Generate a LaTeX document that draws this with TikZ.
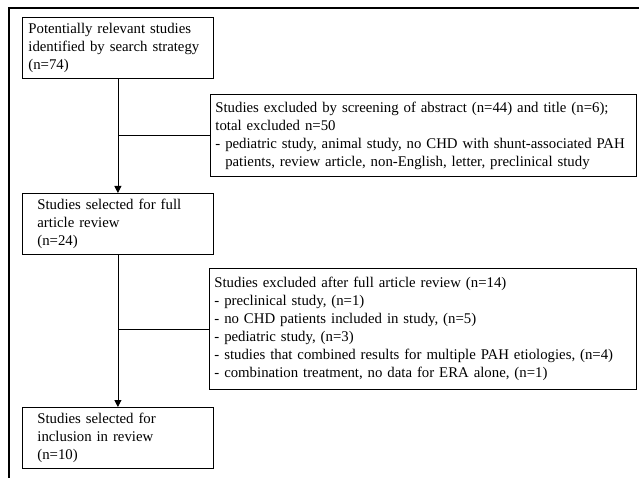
\documentclass[tikz,border=0pt]{standalone}
\usepackage{fontspec}
\setmainfont{Liberation Serif}
\usetikzlibrary{arrows.meta}
\tikzset{
	box/.style={draw,rectangle,anchor=north west,align=left,line width=0.8pt,
		font=\fontsize{14.8}{18}\selectfont,inner ysep=2pt},
	flow/.style={line width=0.8pt,-{Triangle[length=7pt,width=7pt]}}
}
\begin{document}
\begin{tikzpicture}[x=1pt,y=-1pt]
	\useasboundingbox (0,0) rectangle (639,478);
	%外框
	\draw [line width=1.2pt] (9,478) -- (9,8) -- (639,8);
	%方框
	\node[box,inner xsep=6pt,text width=179pt,minimum height=61pt] (found) at (22,17)
	{Potentially relevant studies\\identified by search strategy\\(n=74)};
	\node[box,inner xsep=15pt,text width=161pt,minimum height=61pt] (full) at (22,193)
	{Studies selected for full\\article review\\(n=24)};
	\node[box,inner xsep=15pt,text width=161pt,minimum height=61pt] (incl) at (22,407)
	{Studies selected for\\inclusion in review\\(n=10)};
	\node[box,inner xsep=5pt,text width=416pt,minimum height=82pt] (excla) at (210,94)
	{Studies excluded by screening of abstract (n=44) and title (n=6);\\
	total excluded n=50\\
	- pediatric study, animal study, no CHD with shunt-associated PAH\\
	\phantom{- }patients, review article, non-English, letter, preclinical study};
	\node[box,inner xsep=5pt,text width=417pt,minimum height=121pt] (exclb) at (209,268)
	{Studies excluded after full article review (n=14)\\
	- preclinical study, (n=1)\\
	- no CHD patients included in study, (n=5)\\
	- pediatric study, (n=3)\\
	- studies that combined results for multiple PAH etiologies, (n=4)\\
	- combination treatment, no data for ERA alone, (n=1)};
	%连线
	\draw [flow] (found.south) -- (full.north);
	\draw [flow] (full.south) -- (incl.north);
	\draw [line width=0.8pt] (excla.west) -- (excla.west -| found.south);
	\draw [line width=0.8pt] (exclb.west) -- (exclb.west -| full.south);
\end{tikzpicture}
\end{document}
